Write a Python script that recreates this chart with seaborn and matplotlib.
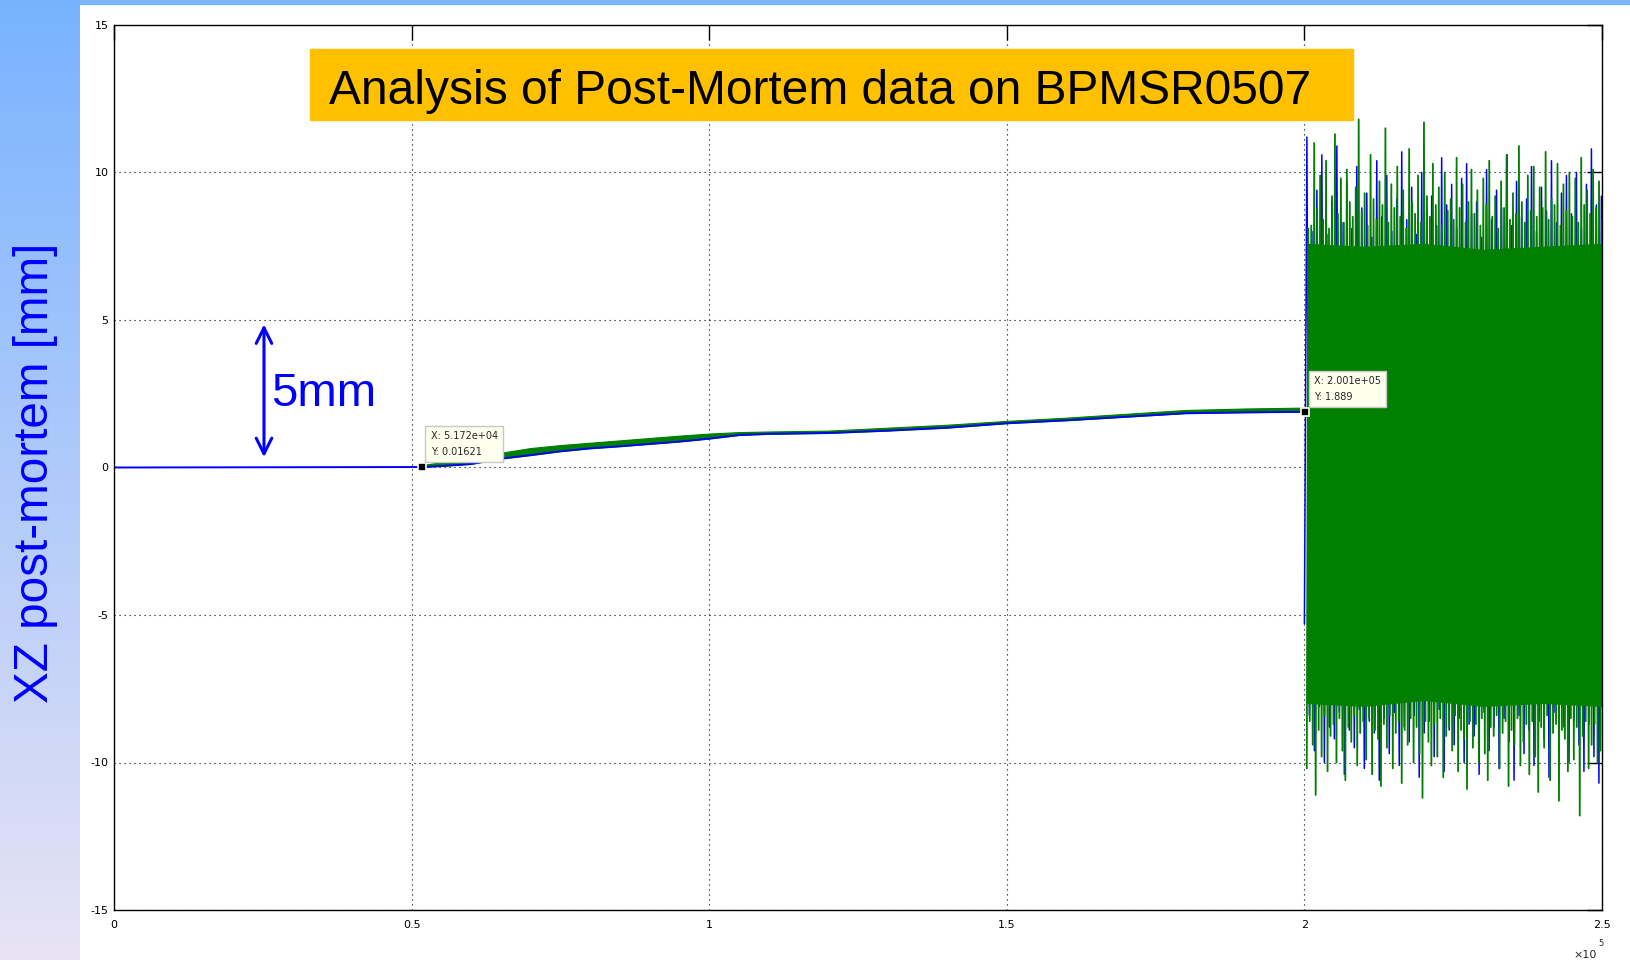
import numpy as np
import seaborn as sns
import matplotlib.pyplot as plt
from matplotlib.patches import Rectangle

# ---- data ----
# flat part before the event (blue channel)
base_x = [0, 51720]
base_blue = [0.0, 0.01621]

# slow drift between the two data tips
drift_x = [51720, 55000, 60000, 65000, 70000, 75000, 80000, 85000, 90000, 95000, 100000,
           105000, 110000, 120000, 130000, 140000, 150000, 160000, 170000, 180000, 190000, 200100]
drift_blue = [0.016, 0.05, 0.12, 0.3, 0.42, 0.55, 0.65, 0.72, 0.8, 0.88, 0.98,
              1.1, 1.14, 1.17, 1.25, 1.35, 1.5, 1.6, 1.72, 1.84, 1.87, 1.889]
drift_green = [0.08, 0.18, 0.32, 0.5, 0.66, 0.76, 0.84, 0.92, 1.0, 1.08, 1.15,
               1.2, 1.22, 1.25, 1.35, 1.45, 1.58, 1.69, 1.82, 1.95, 2.0, 2.03]

# oscillation after the event: solid core of the green trace
core_x = [200400, 210000, 220000, 230000, 240000, 250000]
core_top = [7.6, 7.5, 7.6, 7.4, 7.5, 7.6]
core_bot = [-8.0, -8.1, -7.9, -8.1, -8.0, -8.1]

# peak / trough of each sampled swing
green_top = [8.1, 8.2, 11.0, 8.8, 9.9, 8.4, 10.4, 8.1, 9.2, 11.3, 8.6, 9.8, 8.3, 10.1, 9.0, 8.5, 9.5, 11.8, 8.7, 9.3,
             8.2, 10.6, 9.1, 8.4, 9.7, 8.9, 11.5, 8.3, 9.6, 8.8, 10.2, 8.5, 9.4, 8.1, 10.8, 9.0, 8.6, 9.9, 8.3, 11.7,
             9.2, 8.5, 10.3, 8.9, 9.5, 8.2, 10.0, 8.7, 9.1, 8.4, 10.5, 8.8, 9.6, 8.3, 9.0, 10.1, 8.6, 9.4, 8.2, 9.8,
             8.9, 10.4, 8.5, 9.2, 8.1, 9.7, 8.8, 10.6, 8.4, 9.3, 8.6, 10.9, 9.0, 8.3, 9.9, 8.7, 10.2, 8.5, 9.5, 8.8,
             10.7, 8.4, 9.1, 8.9, 10.3, 8.2, 9.6, 8.7, 10.0, 8.5, 9.8, 8.3, 10.5, 8.9, 9.4, 8.6, 10.1, 8.8, 9.7, 8.4]
green_bot = [-10.2, -8.6, -9.4, -11.1, -8.9, -9.8, -8.4, -10.3, -9.1, -8.7, -10.0, -8.5, -9.6, -10.6, -8.8, -9.3, -8.4, -10.1, -9.0, -8.6,
             -9.9, -8.5, -10.4, -8.9, -9.2, -10.8, -8.7, -9.5, -8.4, -10.2, -9.0, -8.6, -10.7, -8.9, -9.4, -8.5, -10.0, -8.8, -9.7, -11.2,
             -8.6, -9.3, -10.1, -8.7, -9.8, -8.5, -10.5, -9.1, -8.8, -9.6, -8.4, -10.3, -8.9, -9.2, -10.9, -8.6, -9.5, -8.7, -10.0, -8.5,
             -9.7, -10.6, -8.8, -9.1, -8.4, -10.2, -9.0, -8.6, -10.8, -8.9, -9.4, -8.5, -10.1, -9.3, -8.7, -10.4, -8.6, -9.8, -11.0, -8.8,
             -9.5, -8.4, -10.6, -9.0, -8.7, -11.3, -8.9, -9.2, -10.3, -8.5, -9.9, -8.8, -11.8, -9.1, -8.6, -10.2, -9.4, -8.7, -10.0, -9.6]
blue_top = [11.2, 8.0, 9.4, 10.6, 7.9, 9.0, 10.9, 8.3, 9.7, 8.1, 10.2, 8.8, 9.3, 7.8, 10.4, 8.5, 9.9, 8.0, 9.1, 10.7,
            8.4, 9.5, 7.9, 10.0, 8.7, 9.2, 8.2, 10.5, 8.9, 9.6, 8.1, 9.8, 10.3, 8.6, 9.0, 7.8, 10.1, 8.4, 9.4, 8.8,
            10.6, 8.2, 9.7, 8.5, 9.1, 10.2, 8.0, 9.5, 8.7, 10.4, 8.3, 9.3, 9.9, 8.6, 10.0, 8.1, 9.6, 10.8, 8.9, 9.2]
blue_bot = [-5.3, -8.4, -9.6, -8.1, -10.0, -8.8, -9.2, -8.3, -10.4, -8.9, -9.5, -8.2, -10.2, -8.6, -9.0, -10.6, -8.5, -9.7, -8.3, -10.1,
            -8.8, -9.3, -8.4, -10.5, -9.0, -8.6, -9.8, -8.2, -10.3, -8.9, -9.4, -8.5, -10.0, -8.7, -9.1, -10.4, -8.3, -9.6, -8.8, -10.2,
            -8.5, -9.3, -10.6, -8.4, -9.7, -8.9, -10.1, -8.6, -9.2, -10.5, -8.3, -9.5, -8.8, -10.0, -8.6, -9.4, -10.3, -8.7, -9.8, -10.7]
osc_start, osc_end = 200100, 249900

# data tips
tips = [(51720, 0.01621, "X: 5.172e+04\nY: 0.01621"),
        (200100, 1.889, "X: 2.001e+05\nY: 1.889")]

xticks = [0, 50000, 100000, 150000, 200000, 250000]
xticklabels = ["0", "0.5", "1", "1.5", "2", "2.5"]
yticks = [-15, -10, -5, 0, 5, 10, 15]

BLUE = "#0000FF"
GREEN = "#007F00"

sns.set_style("white")
plt.rcParams["font.family"] = ["Liberation Sans", "DejaVu Sans"]
plt.rcParams["axes.unicode_minus"] = False

fig = plt.figure(figsize=(16.3, 9.6), dpi=100)
W, H = 1630, 960

# slide background: gradient strip on the left, thin blue strip on top
grad = fig.add_axes([0, 0, 80 / W, 1])
top_c = np.array([0.47, 0.70, 1.0])
bot_c = np.array([0.91, 0.89, 0.96])
t = np.linspace(0, 1, 256)[:, None]
grad.imshow((top_c * (1 - t) + bot_c * t)[:, None, :], aspect="auto", extent=[0, 1, 0, 1])
grad.axis("off")
fig.patches.append(Rectangle((80 / W, 1 - 4 / H), 1, 4 / H, transform=fig.transFigure,
                             color="#7AB6FF", zorder=0))

ax = fig.add_axes([114 / W, 1 - 910 / H, (1602 - 114) / W, (910 - 25) / H])


def swing(lo, hi):
    # trace goes trough -> peak -> trough ... for every sampled swing
    y = np.empty(2 * len(lo))
    y[0::2] = lo
    y[1::2] = hi
    return y


blue_osc = swing(blue_bot, blue_top)
green_osc = swing(green_bot, green_top)
blue_x = np.linspace(osc_start - 100, osc_end, len(blue_osc))
green_x = np.linspace(osc_start + 300, osc_end + 100, len(green_osc))

sns.lineplot(x=base_x, y=base_blue, ax=ax, color=BLUE, lw=1.4, estimator=None, sort=False)
sns.lineplot(x=blue_x, y=blue_osc, ax=ax, color=BLUE, lw=1.1, estimator=None, sort=False, zorder=2.2)

# green on top of blue (as in the original plot order)
ax.fill_between(core_x, core_bot, core_top, color=GREEN, lw=0, zorder=2.4)
sns.lineplot(x=green_x, y=green_osc, ax=ax, color=GREEN, lw=1.3, estimator=None, sort=False, zorder=2.4)

ax.fill_between(drift_x, drift_blue, drift_green, color=GREEN, lw=0.8, zorder=2.3)
sns.lineplot(x=drift_x, y=drift_blue, ax=ax, color=BLUE, lw=1.3, estimator=None, sort=False, zorder=2.35)

# data tips
for tx, ty, label in tips:
    ax.plot(tx, ty, marker="s", ms=6, color="black", mec="#FFFFEE", mew=1.2, zorder=6)
    ax.annotate(label, xy=(tx, ty), xytext=(9, 10), textcoords="offset pixels",
                ha="left", va="bottom", fontsize=7, family="DejaVu Sans", linespacing=1.7,
                bbox=dict(boxstyle="square,pad=0.55", fc="#FFFFEE", ec="#C8C8C8", lw=1), zorder=6)

# 5mm scale arrow
ax.annotate("", xy=(25200, 4.85), xytext=(25200, 0.35),
            arrowprops=dict(arrowstyle="<->", color=BLUE, lw=2.2, mutation_scale=28,
                            shrinkA=0, shrinkB=0))
ax.text(26400, 2.5, "5mm", color=BLUE, fontsize=34, va="center", ha="left")

# matlab-ish axes
ax.set_xlim(0, 250000)
ax.set_ylim(-15, 15)
ax.set_xticks(xticks)
ax.set_xticklabels(xticklabels)
ax.set_yticks(yticks)
ax.set_xlabel("")
ax.set_ylabel("")
ax.grid(True, color="black", lw=0.8, ls=(0, (1, 3.5)))
ax.tick_params(direction="in", length=11, width=1, top=True, right=True,
               labelsize=8, colors="black")
ax.tick_params(axis="y", pad=4)
ax.tick_params(axis="x", pad=7)
for lab in ax.get_xticklabels() + ax.get_yticklabels():
    lab.set_family("DejaVu Sans")
for s in ax.spines.values():
    s.set_color("black")
    s.set_linewidth(1)
ax.set_facecolor("white")

fig.text(1573 / W, 1 - 955 / H, "×10", fontsize=8, family="DejaVu Sans", ha="left", va="center")
fig.text(1598 / W, 1 - 944 / H, "5", fontsize=6, family="DejaVu Sans", ha="left", va="center")

# title box
fig.patches.append(Rectangle((310 / W, 1 - 120 / H), 1043 / W, 71 / H, transform=fig.transFigure,
                             color="#FFC000", zorder=3))
fig.text(820 / W, 1 - 92 / H, "Analysis of Post-Mortem data on BPMSR0507", fontsize=34.5,
         ha="center", va="center", color="black", zorder=4)

# y label on the slide
fig.text(36 / W, 1 - 473 / H, "XZ post-mortem [mm]", color=BLUE, fontsize=34.3,
         rotation=90, ha="center", va="center")

fig.savefig("out.png", dpi=100)
